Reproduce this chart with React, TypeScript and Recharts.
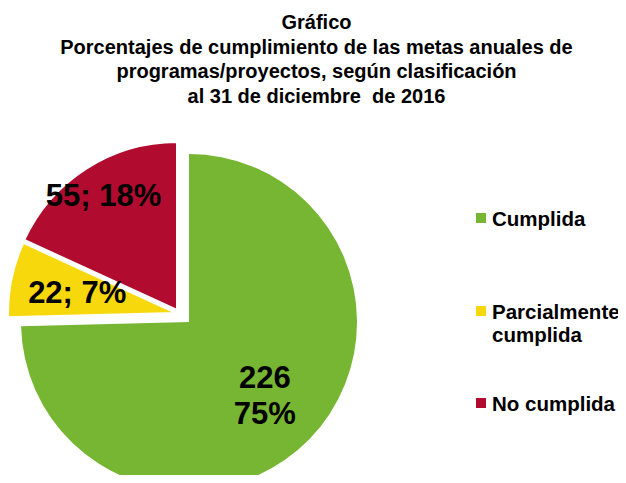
import React from "react";
import { PieChart, Pie, Cell, Legend } from "recharts";

const categories = ["Cumplida", "Parcialmente cumplida", "No cumplida"];
const counts = [226, 22, 55];
const titleLines = [
  "Gráfico",
  "Porcentajes de cumplimiento de las metas anuales de",
  "programas/proyectos, según clasificación",
  "al 31 de diciembre  de 2016",
];

const sliceColors = ["#77B632", "#F6D80C", "#B10B30"];
const FONT = "'Liberation Sans', Arial, Helvetica, sans-serif";
const RADIAN = Math.PI / 180;

const total = counts.reduce((a, b) => a + b, 0);
const data = categories.map((name, i) => ({
  name,
  value: counts[i],
  pct: Math.round((counts[i] / total) * 100),
}));

// each slice is its own Pie so exploded slices can sit on their own centre
const slicePos = [
  { cx: 189, cy: 322, labelR: 0.63 },
  { cx: 176, cy: 313, labelR: 0.6 },
  { cx: 177, cy: 310, labelR: 0.81 },
];

const legendGaps = [0, 70, 46];

function makeLabel(target: number) {
  return (props: any) => {
    const { cx, cy, midAngle, outerRadius, index } = props;
    if (index !== target) return null;
    const r = outerRadius * slicePos[target].labelR;
    const x = cx + r * Math.cos(-midAngle * RADIAN);
    const y = cy + r * Math.sin(-midAngle * RADIAN);
    const d = data[index];
    const style = { fontFamily: FONT, fontWeight: 700, fontSize: 31 };
    if (index === 0) {
      return (
        <text x={x} y={y} textAnchor="middle" fill="#000" style={style}>
          <tspan x={x} dy={-18} dominantBaseline="central">{d.value}</tspan>
          <tspan x={x} dy={36} dominantBaseline="central">{d.pct}%</tspan>
        </text>
      );
    }
    return (
      <text x={x} y={y} textAnchor="middle" dominantBaseline="central" fill="#000" style={style}>
        {`${d.value}; ${d.pct}%`}
      </text>
    );
  };
}

function LegendBox() {
  return (
    <div style={{ fontFamily: FONT, fontWeight: 700, fontSize: 20.5, lineHeight: "23px", color: "#000", width: 145 }}>
      {categories.map((c, i) => (
        <div key={c} style={{ display: "flex", alignItems: "flex-start", marginTop: legendGaps[i] }}>
          <span
            style={{
              display: "inline-block",
              width: 10,
              height: 10,
              background: sliceColors[i],
              marginTop: 6,
              marginRight: 6,
              flexShrink: 0,
            }}
          />
          <span>{c}</span>
        </div>
      ))}
    </div>
  );
}

export default function App() {
  return (
    <div style={{ position: "relative", width: 626, height: 483, margin: -8, background: "#fff", overflow: "hidden" }}>
      <PieChart width={626} height={483} margin={{ top: 0, right: 0, bottom: 0, left: 0 }}>
        {slicePos.map((p, k) => (
          <Pie
            key={k}
            data={data}
            dataKey="value"
            nameKey="name"
            cx={p.cx}
            cy={p.cy}
            outerRadius={168}
            startAngle={90}
            endAngle={-270}
            isAnimationActive={false}
            labelLine={false}
            label={makeLabel(k)}
            legendType="none"
          >
            {data.map((d, i) => (
              <Cell
                key={d.name}
                fill={i === k ? sliceColors[i] : "transparent"}
                stroke={i === k && k > 0 ? "#fff" : "none"}
                strokeWidth={i === k && k > 0 ? 2 : 0}
              />
            ))}
          </Pie>
        ))}
        <Legend
          content={() => <LegendBox />}
          wrapperStyle={{ position: "absolute", left: 476, top: 207, width: 150 }}
        />
      </PieChart>
      <div
        style={{
          position: "absolute",
          top: 10,
          left: 0,
          width: 626,
          paddingLeft: 7,
          boxSizing: "border-box",
          textAlign: "center",
          fontFamily: FONT,
          fontWeight: 700,
          fontSize: 20,
          lineHeight: "24.5px",
          color: "#000",
        }}
      >
        {titleLines.map((t) => (
          <div key={t} style={{ whiteSpace: "pre" }}>{t}</div>
        ))}
      </div>
    </div>
  );
}
